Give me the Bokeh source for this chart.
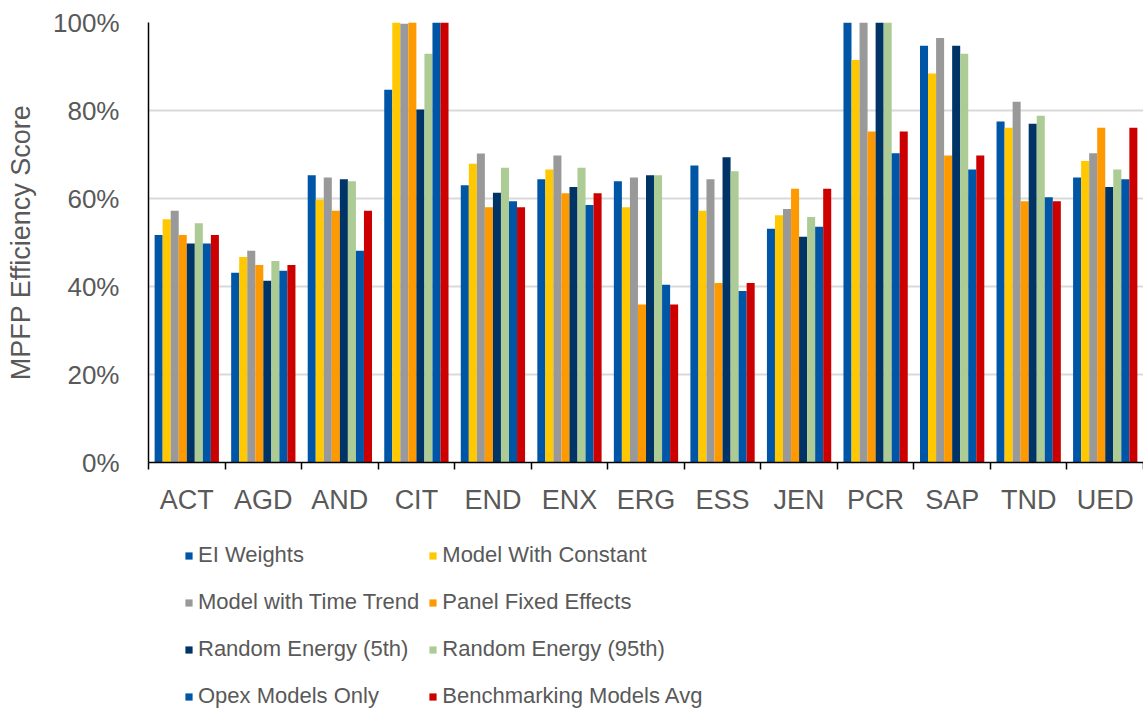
from bokeh.plotting import figure
from bokeh.layouts import column
from bokeh.models import (Range1d, LinearAxis, FixedTicker, NumeralTickFormatter,
                          Legend, LegendItem, ColumnDataSource)
from bokeh.transform import dodge
from bokeh.embed import file_html
from bokeh.resources import INLINE

categories = ["ACT", "AGD", "AND", "CIT", "END", "ENX", "ERG", "ESS", "JEN", "PCR", "SAP", "TND", "UED"]

series_names = ["EI Weights", "Model With Constant", "Model with Time Trend", "Panel Fixed Effects",
                "Random Energy (5th)", "Random Energy (95th)", "Opex Models Only", "Benchmarking Models Avg"]

ei_weights = [0.517, 0.431, 0.653, 0.847, 0.630, 0.644, 0.639, 0.675, 0.531, 1.000, 0.947, 0.775, 0.648]
model_with_constant = [0.553, 0.467, 0.598, 1.000, 0.679, 0.666, 0.580, 0.572, 0.562, 0.915, 0.884, 0.761, 0.685]
model_with_time_trend = [0.572, 0.481, 0.648, 0.997, 0.702, 0.698, 0.648, 0.644, 0.576, 1.000, 0.965, 0.820, 0.703]
panel_fixed_effects = [0.517, 0.449, 0.572, 1.000, 0.580, 0.612, 0.359, 0.408, 0.622, 0.752, 0.698, 0.594, 0.761]
random_energy_5th = [0.498, 0.413, 0.644, 0.802, 0.613, 0.626, 0.653, 0.694, 0.513, 1.000, 0.947, 0.770, 0.626]
random_energy_95th = [0.544, 0.458, 0.639, 0.929, 0.670, 0.670, 0.653, 0.662, 0.558, 1.000, 0.929, 0.788, 0.666]
opex_models_only = [0.498, 0.436, 0.481, 1.000, 0.594, 0.585, 0.404, 0.390, 0.536, 0.703, 0.666, 0.603, 0.644]
benchmarking_models_avg = [0.517, 0.449, 0.572, 1.000, 0.580, 0.612, 0.359, 0.408, 0.622, 0.752, 0.698, 0.594, 0.761]

y_ticks = [0.0, 0.2, 0.4, 0.6, 0.8, 1.0]

series_values = [ei_weights, model_with_constant, model_with_time_trend, panel_fixed_effects,
                 random_energy_5th, random_energy_95th, opex_models_only, benchmarking_models_avg]
colors = ["#0056A6", "#FFC800", "#999999", "#FF9900", "#003366", "#ADCB94", "#0056A6", "#CC0000"]

FONT = "Liberation Sans"
TXT = "#595959"

src = ColumnDataSource(dict(cat=categories, **{f"s{i}": v for i, v in enumerate(series_values)}))

p = figure(x_range=categories, y_range=Range1d(0, 1), width=1143, height=522,
           output_backend="svg", toolbar_location=None, x_axis_location=None, y_axis_location=None,
           min_border_left=148, min_border_top=22, min_border_right=0, min_border_bottom=60)
p.x_range.range_padding = 0
p.outline_line_color = None
p.xgrid.grid_line_color = None
p.ygrid.grid_line_color = "#D9D9D9"
p.ygrid.grid_line_width = 2
p.ygrid.ticker = FixedTicker(ticks=y_ticks)

n = len(series_names)
bw = 0.105
for i in range(n):
    off = (i - (n - 1) / 2) * bw
    p.vbar(x=dodge("cat", off, range=p.x_range), top=f"s{i}", width=bw, source=src,
           fill_color=colors[i], line_color=None)

yaxis = LinearAxis(ticker=FixedTicker(ticks=y_ticks), formatter=NumeralTickFormatter(format="0%"),
                   axis_label="MPFP Efficiency Score")
yaxis.major_tick_out = 0
yaxis.major_tick_in = 0
yaxis.minor_tick_out = 0
yaxis.minor_tick_in = 0
yaxis.axis_line_color = "#000000"
yaxis.axis_line_width = 1.5
yaxis.major_label_standoff = 29
yaxis.major_label_text_font = FONT
yaxis.major_label_text_font_size = "26px"
yaxis.major_label_text_color = TXT
yaxis.axis_label_text_font = FONT
yaxis.axis_label_text_font_size = "27px"
yaxis.axis_label_text_font_style = "normal"
yaxis.axis_label_text_color = TXT
yaxis.axis_label_standoff = 14
p.add_layout(yaxis, "left")

# x axis on the factor range's synthetic coordinates: labels at category centres,
# tick marks at category boundaries
nc = len(categories)
xaxis = LinearAxis(ticker=FixedTicker(ticks=[i + 0.5 for i in range(nc)], minor_ticks=list(range(nc + 1))),
                   major_label_overrides={i + 0.5: c for i, c in enumerate(categories)})
xaxis.major_tick_out = 0
xaxis.major_tick_in = 0
xaxis.major_tick_line_color = None
xaxis.minor_tick_out = 7
xaxis.minor_tick_in = 0
xaxis.minor_tick_line_color = "#000000"
xaxis.minor_tick_line_width = 1.5
xaxis.axis_line_color = "#000000"
xaxis.axis_line_width = 1.5
xaxis.major_label_standoff = 15
xaxis.major_label_text_font = FONT
xaxis.major_label_text_font_size = "27px"
xaxis.major_label_text_color = TXT
p.add_layout(xaxis, "below")

# legend panel: a second figure sharing the data, whose bars lie outside its view
q = figure(x_range=p.x_range, y_range=Range1d(2, 3), width=1143, height=192,
           output_backend="svg", toolbar_location=None, x_axis_location=None, y_axis_location=None,
           min_border_left=0, min_border_top=0, min_border_right=0, min_border_bottom=0)
q.outline_line_color = None
q.xgrid.grid_line_color = None
q.ygrid.grid_line_color = None
legend_renderers = []
for i in range(n):
    off = (i - (n - 1) / 2) * bw
    legend_renderers.append(q.vbar(x=dodge("cat", off, range=q.x_range), top=f"s{i}", width=bw,
                                   source=src, fill_color=colors[i], line_color=None))

legend = Legend(items=[LegendItem(label=nm, renderers=[r]) for nm, r in zip(series_names, legend_renderers)],
                ncols=2, orientation="horizontal", location=(36, -1), padding=0, spacing=9,
                glyph_width=9, glyph_height=9, label_standoff=5, margin=0, label_height=38,
                label_text_font=FONT, label_text_font_size="22px", label_text_color=TXT,
                border_line_color=None, background_fill_alpha=0)
q.add_layout(legend, "center")

layout = column(p, q, spacing=0)
open("out.html", "w").write(file_html(layout, INLINE))
